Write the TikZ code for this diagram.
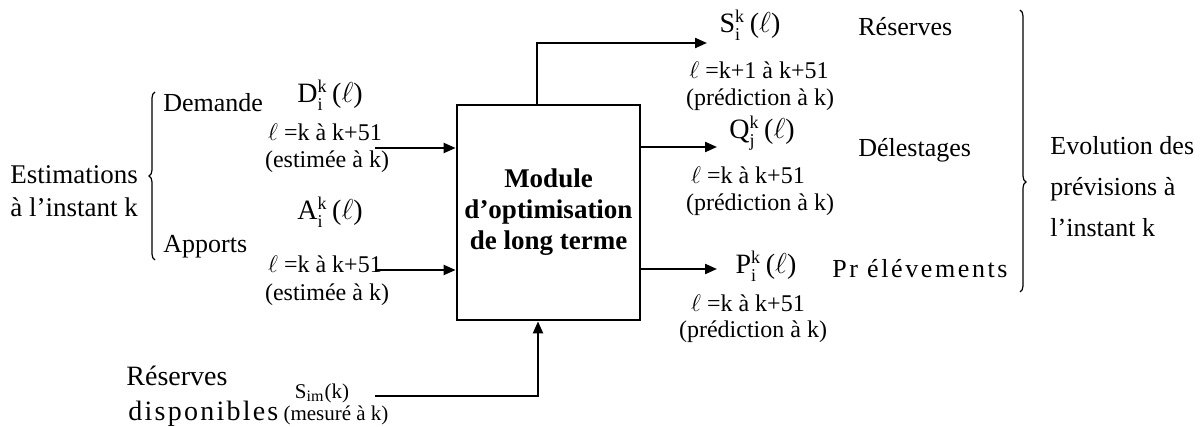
\documentclass[tikz,border=0pt]{standalone}
\usepackage{fontspec}
\setmainfont{Liberation Serif}
\usetikzlibrary{arrows.meta,decorations.pathreplacing}
\newcommand{\ik}[2]{$^{\mbox{\fontsize{9}{9}\selectfont #1}}_{\mbox{\fontsize{9}{9}\selectfont #2}}$\,}

\begin{document}
\begin{tikzpicture}[
    x=0.5pt, y=-0.5pt,
    font=\fontsize{13}{16}\selectfont,
    lbl/.style={inner sep=0pt},
    var/.style={inner sep=0pt, font=\fontsize{14}{16}\selectfont},
    small/.style={inner sep=0pt, font=\fontsize{12}{14}\selectfont},
    tiny/.style={inner sep=0pt, font=\fontsize{10.5}{12}\selectfont},
    modbox/.style={rectangle, draw, line width=1.4pt, minimum width=91.5pt, minimum height=107.5pt, align=center, font=\fontsize{13.5}{15.5}\selectfont\bfseries},
    arrow/.style={-{Triangle[length=6pt,width=5pt]}, line width=1.1pt},
    bracel/.style={decorate, decoration={brace, amplitude=3pt, aspect=#1}, line width=0.6pt}
]
    \useasboundingbox (0,0) rectangle (1201,427);

    % Central block
    \node[modbox] (mod) at (548.5,212.5) {Module\\d’optimisation\\de long terme};

    % Estimations (left)
    \node[lbl, anchor=west, align=left, font=\fontsize{13.5}{16.5}\selectfont] (est) at (10,191) {Estimations\\à l'instant k};
    \draw[bracel=0.5] (155,260) -- (155,92);
    \node[lbl, anchor=west] (dem) at (163,103) {Demande};
    \node[lbl, anchor=west] (app) at (163,247) {Apports};

    \node[var] (dlab) at (330,95) {D\ik{k}{i}($\ell$)};
    \node[small] (drange) at (325,132) {$\ell$ =k à k+51};
    \node[small] (dnote) at (327,162) {(estimée à k)};
    \node[var] (alab) at (330,212) {A\ik{k}{i}($\ell$)};
    \node[small] (arange) at (325,264) {$\ell$ =k à k+51};
    \node[small] (anote) at (327,295) {(estimée à k)};

    % Reserves disponibles (bottom)
    \node[lbl, anchor=west, font=\fontsize{14}{16}\selectfont] (res) at (126,376) {Réserves};
    \node[lbl, anchor=west, font=\fontsize{14}{16}\selectfont\addfontfeature{LetterSpace=8}] (dispo) at (128,414) {disponibles};
    \node[tiny] (slab) at (322,393) {S$_{\mbox{\fontsize{8}{8}\selectfont im}}$(k)};
    \node[tiny] (snote) at (336,415) {(mesuré à k)};

    % Outputs (right)
    \node[var] (sout) at (750,25) {S\ik{k}{i}($\ell$)};
    \node[small] (srange) at (759,70) {$\ell$ =k+1 à k+51};
    \node[small] (snote2) at (760,100) {(prédiction à k)};
    \node[var] (qout) at (762,133) {Q\ik{k}{j}($\ell$)};
    \node[small] (qrange) at (748,175) {$\ell$ =k à k+51};
    \node[small] (qnote) at (760,205) {(prédiction à k)};
    \node[var] (pout) at (766,266) {P\ik{k}{i}($\ell$)};
    \node[small] (prange) at (748,303) {$\ell$ =k à k+51};
    \node[small] (pnote) at (753,332) {(prédiction à k)};

    \node[lbl, anchor=west] (rsv) at (858,27) {Réserves};
    \node[lbl, anchor=west] (del) at (858,150) {Délestages};
    \node[lbl, anchor=west, font=\fontsize{13}{16}\selectfont\addfontfeature{LetterSpace=10}] (pre) at (832,269) {Pr élévements};
    \draw[bracel=0.61] (1020,10) -- (1020,292);
    \node[lbl, anchor=west, align=left, font=\fontsize{13}{20.5}\selectfont] (evo) at (1050,187) {Evolution des\\prévisions à\\l'instant k};

    % Arrows
    \coordinate (din) at (375,148);
    \coordinate (ain) at (375,270);
    \coordinate (simin) at (375,396);
    \coordinate (simturn) at (538,396);
    \coordinate (sturn) at (537,43);
    \coordinate (send) at (707,43);
    \coordinate (qend) at (717,147);
    \coordinate (pend) at (717,269);

    \draw[arrow] (din) -- (din -| mod.west);
    \draw[arrow] (ain) -- (ain -| mod.west);
    \draw[arrow] (simin) -- (simturn) -- (simturn |- mod.south);
    \draw[arrow] (sturn |- mod.north) -- (sturn) -- (send);
    \draw[arrow] (qend -| mod.east) -- (qend);
    \draw[arrow] (pend -| mod.east) -- (pend);

\end{tikzpicture}
\end{document}
